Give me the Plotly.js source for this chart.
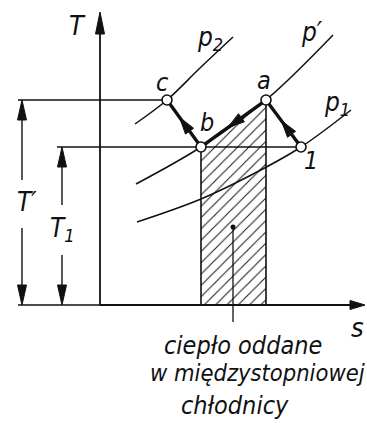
<!DOCTYPE html>
<html>
<head>
<meta charset="utf-8">
<script src="https://cdn.plot.ly/plotly-3.0.1.min.js"></script>
<style>
  html, body { margin: 0; padding: 0; background: #fff; }
  #chart { width: 367px; height: 423px; }
</style>
</head>
<body>
<div id="chart"></div>
<script>
// T-s diagram of intercooling between compressor stages

// State points (entropy s, temperature T)
const stateNames = ['c', 'a', 'b', '1'];
const stateS = [6.7, 16.6, 10.1, 20.1];
const stateT = [20.5, 20.5, 15.8, 15.8];

// Temperatures marked on the left
const T_prime = 20.5;
const T_1 = 15.8;

// Isobars
const p2S = [3.5, 6.7, 10.0, 13.3];
const p2T = [18.1, 20.5, 23.7, 26.8];
const pPrimeS = [3.6, 10.1, 16.6, 23.3];
const pPrimeT = [12.1, 15.8, 20.5, 27.0];
const p1S = [3.7, 10.1, 15.7, 20.1, 25.1];
const p1T = [8.3, 10.6, 13.3, 15.8, 19.5];

// Process path 1 -> a -> b -> c
const pathS = [20.1, 16.6, 10.1, 6.7];
const pathT = [15.8, 20.5, 15.8, 20.5];
// where each arrowhead tip sits along its segment (fraction from start)
const headFrac = [0.56, 0.59, 0.63];

// Axis extents
const sMax = 26.5;
const TMax = 29.3;

// Label texts
const caption = ['ciepło oddane', 'w międzystopniowej', 'chłodnicy'];

const PX = 10; // pixels per unit on both axes (fixed layout)

const font = (size) => ({family: 'DejaVu Sans Condensed, DejaVu Sans, sans-serif', size: size, color: '#111'});
const ink = '#111';

const traces = [];
function line(xs, ys, w, shape) {
  traces.push({x: xs, y: ys, mode: 'lines', type: 'scatter', hoverinfo: 'skip',
    line: {color: ink, width: w, shape: shape || 'linear', smoothing: 1}});
}
// filled arrowhead with tip at (tx,ty) pointing away from (fx,fy)
function head(fx, fy, tx, ty, len, half) {
  const dx = (tx - fx) * PX, dy = (ty - fy) * PX;
  const d = Math.hypot(dx, dy);
  const ux = dx / d, uy = dy / d;
  const bx = tx - ux * len / PX, by = ty - uy * len / PX;
  const nx = -uy * half / PX, ny = ux * half / PX;
  traces.push({x: [tx, bx + nx, bx - nx, tx], y: [ty, by + ny, by - ny, ty],
    mode: 'lines', fill: 'toself', fillcolor: ink, line: {color: ink, width: 1},
    type: 'scatter', hoverinfo: 'skip'});
}

// hatched area under b -> a (heat rejected in the intercooler)
const iB = 2, iA = 1;
traces.push({
  x: [stateS[iB], stateS[iA], stateS[iA], stateS[iB], stateS[iB]],
  y: [stateT[iB], stateT[iA], 0, 0, stateT[iB]],
  mode: 'lines', fill: 'toself', type: 'scatter', hoverinfo: 'skip',
  fillcolor: 'rgba(0,0,0,0)',
  fillpattern: {shape: '/', size: 8, solidity: 0.12, fgcolor: ink, bgcolor: 'rgba(255,255,255,0)'},
  line: {color: ink, width: 1.6}
});

// isobars
line(p2S, p2T, 1.5, 'spline');
line(pPrimeS, pPrimeT, 1.5, 'spline');
line(p1S, p1T, 1.5, 'spline');

// axes
line([0, 0], [0, TMax - 1.5], 1.8);
line([0, sMax - 1.2], [0, 0], 1.8);
head(0, 0, 0, TMax, 22, 4.5);
head(0, 0, sMax, 0, 15, 4.5);
line([-8.2, 0], [0, 0], 1.6);

// guide lines at T' and T1
line([-8.2, stateS[0]], [T_prime, T_prime], 1.5);
line([-4.3, stateS[3]], [T_1, T_1], 1.5);

// dimension arrows for T' and T1
const xTp = -7.8, xT1 = -3.8;
line([xTp, xTp], [T_prime - 1, 12.5], 1.4);
line([xTp, xTp], [7.7, 1], 1.4);
head(xTp, 0, xTp, T_prime, 20, 4.5);
head(xTp, T_prime, xTp, 0, 20, 4.5);
line([xT1, xT1], [T_1 - 1, 10.0], 1.4);
line([xT1, xT1], [5.0, 1], 1.4);
head(xT1, 0, xT1, T_1, 20, 4.5);
head(xT1, T_1, xT1, 0, 20, 4.5);

// process path with arrowheads midway
line(pathS, pathT, 3.4);
for (let k = 0; k < 3; k++) {
  const fx = pathS[k], fy = pathT[k], tx = pathS[k + 1], ty = pathT[k + 1];
  const f = headFrac[k];
  head(fx, fy, fx + (tx - fx) * f, fy + (ty - fy) * f, 17, 5);
}

// leader line to the caption
line([13.3, 13.3], [7.8, -1.7], 1.3);
traces.push({x: [13.3], y: [7.8], mode: 'markers', type: 'scatter', hoverinfo: 'skip',
  marker: {color: ink, size: 5}});

// state points
traces.push({x: stateS, y: stateT, mode: 'markers', type: 'scatter', hoverinfo: 'skip',
  marker: {size: 10, color: '#fff', line: {color: ink, width: 1.6}}});

const ann = (x, y, text, size) => ({x: x, y: y, xref: 'x', yref: 'y', text: '<i>' + text + '</i>',
  showarrow: false, font: font(size), xanchor: 'center', yanchor: 'middle'});

const annotations = [
  ann(-2.3, 28.0, 'T', 27),
  ann(25.7, -2.2, 's', 27),
  ann(6.2, 22.3, stateNames[0], 25),
  ann(16.4, 22.5, stateNames[1], 25),
  ann(10.7, 18.3, stateNames[2], 25),
  ann(21.1, 14.5, stateNames[3], 25),
  ann(11.0, 26.7, 'p<sub>2</sub>', 26),
  ann(21.2, 27.3, 'p′', 26),
  ann(23.7, 20.2, 'p<sub>1</sub>', 26),
  ann(-7.3, 10.3, 'T′', 26),
  ann(-3.8, 7.6, 'T<sub>1</sub>', 26),
  ann(14.3, -4.0, caption[0], 25),
  ann(15.7, -6.8, caption[1], 23.5),
  ann(13.5, -10.0, caption[2], 25)
];

const layout = {
  width: 367, height: 423,
  margin: {l: 0, r: 0, t: 0, b: 0},
  paper_bgcolor: '#fff', plot_bgcolor: '#fff',
  showlegend: false,
  xaxis: {range: [-10, 26.7], visible: false, fixedrange: true},
  yaxis: {range: [-11.8, 30.5], visible: false, fixedrange: true},
  annotations: annotations
};

Plotly.newPlot('chart', traces, layout, {staticPlot: true, displayModeBar: false});
</script>
</body>
</html>
